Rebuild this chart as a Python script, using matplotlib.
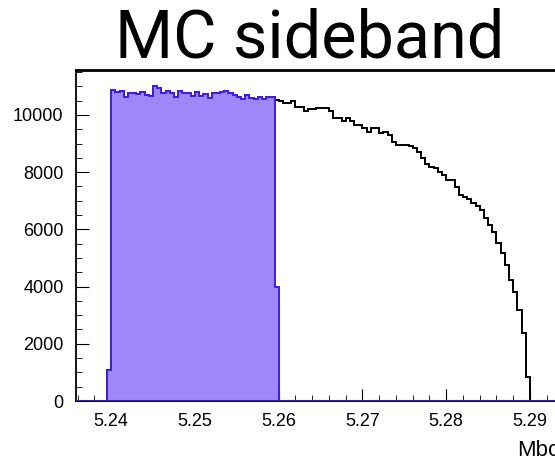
import numpy as np
import matplotlib
matplotlib.use("Agg")
import matplotlib.pyplot as plt
from matplotlib.ticker import MultipleLocator

# binning of the Mbc histograms
bin_start = 5.2395
bin_width = 0.0005

# sideband (purple) contents: first bin, 5.24-5.2595, last partial bin
sideband = [1100,
            10870, 10790, 10840, 10620, 10780, 10760, 10740, 10790, 10680, 10660,
            11010, 10930, 10760, 10830, 10780, 10630, 10850, 10760, 10760, 10650,
            10790, 10660, 10720, 10600, 10780, 10780, 10790, 10820, 10760, 10690,
            10640, 10560, 10700, 10590, 10540, 10640, 10540, 10630, 10630,
            4000]

# full MC above 5.2595
upper = [10520,
         10470, 10410, 10410, 10470, 10290, 10290, 10120, 10200, 10200, 10230,
         10230, 10230, 10120, 9880, 9880, 9770, 9880, 9800, 9650, 9650,
         9540, 9420, 9540, 9540, 9380, 9420, 9300, 9070, 8950, 8950,
         8950, 8920, 8830, 8720, 8490, 8300, 8190, 8140, 8020, 7900,
         7730, 7730, 7490, 7200, 7120, 7050,
         6910, 6820, 6680, 6390, 6150, 5890, 5510, 5160, 4760, 4230,
         3820, 3180, 2370, 850]

full = sideband[:-1] + upper

edges_sb = bin_start + bin_width * np.arange(len(sideband) + 1)
edges_full = bin_start + bin_width * np.arange(len(full) + 1)

xticks = [5.24, 5.25, 5.26, 5.27, 5.28, 5.29]
yticks = [0, 2000, 4000, 6000, 8000, 10000]

fig = plt.figure(figsize=(5.55, 4.62), dpi=100)
# axes runs past the right edge of the picture, like the cropped original
ax = fig.add_axes([76/555, 61/462, 537.75/555, 331/462])

ax.stairs(full, edges_full, color="black", lw=1.4, zorder=1)
ax.stairs(sideband, edges_sb, fill=True, color="#9e87f8", zorder=2)
ax.stairs(sideband, edges_sb, color="#3d1cf2", lw=1.4, zorder=3)
ax.axhline(0, color="#2f10f5", lw=2.2, zorder=4)

ax.set_xlim(5.2358, 5.30)
ax.set_ylim(0, 11570)
ax.set_xticks(xticks)
ax.set_xticklabels(["5.24", "5.25", "5.26", "5.27", "5.28", "5.29"])
ax.set_yticks(yticks)
ax.xaxis.set_minor_locator(MultipleLocator(0.002))
ax.yaxis.set_minor_locator(MultipleLocator(500))

ax.tick_params(which="both", direction="in", top=False, right=False,
               labelfontfamily="Liberation Sans", labelsize=13)
ax.tick_params(axis="x", which="major", length=9, pad=9)
ax.tick_params(axis="x", which="minor", length=4.5)
ax.tick_params(axis="y", which="major", length=9, pad=9)
ax.tick_params(axis="y", which="minor", length=4.5)

ax.spines["top"].set_linewidth(2)
ax.spines["left"].set_linewidth(1.3)
ax.spines["bottom"].set_linewidth(1.3)
ax.spines["right"].set_visible(False)

fig.text(310/555, 1 - 39/462, "MC sideband", ha="center", va="center",
         fontsize=48, family="Roboto")
fig.text(517/555, 1 - 451/462, "Mbc", ha="left", va="center",
         fontsize=16, family="Liberation Sans")

fig.savefig("out.png", dpi=100)
